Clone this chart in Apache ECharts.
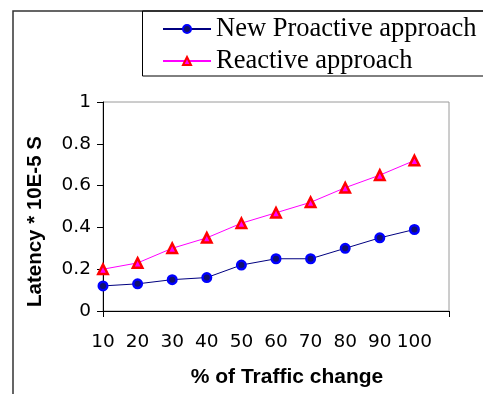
<!DOCTYPE html>
<html>
<head>
    <meta charset="utf-8"/>
    <title>Latency vs traffic change</title>
    <script type="text/javascript" src="https://cdn.jsdelivr.net/npm/echarts@6/dist/echarts.min.js"></script>
    <style>
        html, body { margin: 0; padding: 0; background: #fff; }
    </style>
</head>
<body>
<div id="main" style="width: 483px;height:394px;"></div>
<script type="text/javascript">
    // data
    var traffic = [10, 20, 30, 40, 50, 60, 70, 80, 90, 100];
    var proactive = [0.12, 0.13, 0.15, 0.16, 0.22, 0.25, 0.25, 0.30, 0.35, 0.39];
    var reactive = [0.20, 0.23, 0.30, 0.35, 0.42, 0.47, 0.52, 0.59, 0.65, 0.72];
    var yTicks = ['0', '0.2', '0.4', '0.6', '0.8', '1'];

    function pairs(vals) {
        return traffic.map(function (t, i) { return [t, vals[i]]; });
    }

    var myChart = echarts.init(document.getElementById('main'));
    var option = {
        animation: false,
        backgroundColor: '#fff',
        graphic: [
            {   // outer frame
                type: 'rect', z: 0, silent: true,
                shape: {x: 13, y: 11, width: 500, height: 420},
                style: {fill: 'none', stroke: '#333', lineWidth: 1.5}
            },
            {   // legend box
                type: 'rect', z: 0, silent: true,
                shape: {x: 142.5, y: 11, width: 400, height: 65},
                style: {fill: 'none', stroke: '#000', lineWidth: 1}
            }
        ],
        legend: {
            orient: 'vertical',
            left: 157,
            top: 9,
            itemWidth: 48,
            itemHeight: 10,
            itemGap: 2,
            textStyle: {
                fontFamily: 'Liberation Serif',
                fontSize: 26.5,
                lineHeight: 30,
                color: '#000'
            },
            data: ['New Proactive approach', 'Reactive approach']
        },
        grid: {
            left: 103,
            top: 102,
            right: 34,
            bottom: 83,
            show: true,
            borderColor: '#9a9a9a',
            borderWidth: 1
        },
        xAxis: [{
            type: 'value',
            min: 10,
            max: 110,
            interval: 10,
            name: '% of Traffic change',
            nameLocation: 'middle',
            nameGap: 56,
            nameTextStyle: {
                fontFamily: 'Liberation Sans',
                fontWeight: 'bold',
                fontSize: 21,
                color: '#000',
                padding: [0, 0, 0, 22]
            },
            axisLine: {lineStyle: {color: '#000', width: 1}},
            axisTick: {show: false},
            splitLine: {show: false},
            axisLabel: {
                margin: 22,
                fontFamily: 'DejaVu Sans',
                fontSize: 18.5,
                color: '#000',
                showMaxLabel: false,
                formatter: function (v) { return v > 100 ? '' : String(v); }
            }
        }, {
            // only the two end ticks under the plot
            type: 'value',
            position: 'bottom',
            min: 10,
            max: 110,
            interval: 100,
            axisLine: {show: false},
            axisTick: {show: true, length: 6, lineStyle: {color: '#000'}},
            axisLabel: {show: false},
            splitLine: {show: false}
        }],
        yAxis: {
            type: 'value',
            min: 0,
            max: 1,
            interval: 0.2,
            name: 'Latency * 10E-5 S',
            nameLocation: 'middle',
            nameRotate: 90,
            nameGap: 57,
            nameTextStyle: {
                fontFamily: 'Liberation Sans',
                fontWeight: 'bold',
                fontSize: 20.5,
                color: '#000',
                padding: [0, 30, 0, 0]
            },
            axisLine: {show: true, lineStyle: {color: '#000', width: 1}},
            axisTick: {show: true, length: 6, lineStyle: {color: '#000'}},
            splitLine: {show: false},
            axisLabel: {
                margin: 12,
                fontFamily: 'DejaVu Sans',
                fontSize: 18.5,
                color: '#000',
                formatter: function (v) { return yTicks[Math.round(v * 5)]; }
            }
        },
        series: [
            {
                name: 'New Proactive approach',
                type: 'line',
                data: pairs(proactive),
                symbol: 'circle',
                symbolSize: 8.5,
                lineStyle: {color: '#000080', width: 1},
                itemStyle: {color: '#101070', borderColor: '#0000ff', borderWidth: 2.5}
            },
            {
                name: 'Reactive approach',
                type: 'line',
                data: pairs(reactive),
                symbol: 'triangle',
                symbolSize: 9.5,
                lineStyle: {color: '#ff00ff', width: 1},
                itemStyle: {color: '#ff00ff', borderColor: '#ff0000', borderWidth: 2.5}
            }
        ]
    };
    myChart.setOption(option);
</script>
</body>
</html>
